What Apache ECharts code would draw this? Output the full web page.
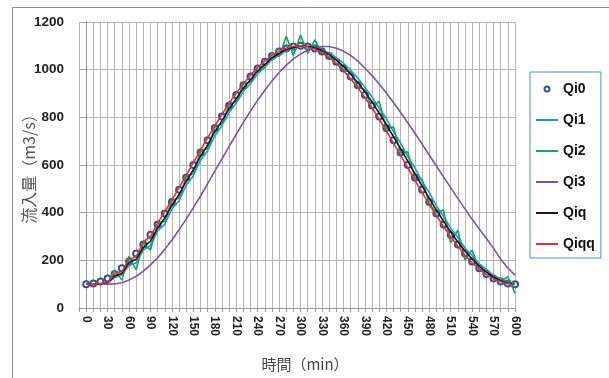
<!DOCTYPE html>
<html>
<head>
<meta charset="utf-8">
<script src="https://cdn.jsdelivr.net/npm/echarts@6/dist/echarts.min.js"></script>
<style>
  html, body { margin: 0; padding: 0; background: #fff; }
  #chart { width: 609px; height: 378px; }
</style>
</head>
<body>
<div id="chart"></div>
<script>
// time (min)
const times = [0, 10, 20, 30, 40, 50, 60, 70, 80, 90, 100, 110, 120, 130, 140, 150, 160, 170, 180, 190,
  200, 210, 220, 230, 240, 250, 260, 270, 280, 290, 300, 310, 320, 330, 340, 350, 360, 370, 380, 390,
  400, 410, 420, 430, 440, 450, 460, 470, 480, 490, 500, 510, 520, 530, 540, 550, 560, 570, 580, 590, 600]

const qi0 = [100, 103, 111, 124, 143, 167, 195, 229, 266, 307, 350, 397, 445, 496, 548, 600, 652, 704, 755, 803,
  850, 894, 935, 971, 1005, 1033, 1057, 1076, 1089, 1097, 1100, 1097, 1089, 1076, 1057, 1033, 1005, 971, 935, 894,
  850, 803, 755, 704, 652, 600, 548, 496, 445, 397, 350, 307, 266, 229, 195, 167, 143, 124, 111, 103, 100]

const qi1 = [100, 100, 101, 104, 128, 140, 178, 190, 243, 262, 322, 352, 415, 450, 515, 555, 620, 660, 722, 765,
  820, 860, 908, 942, 983, 1010, 1042, 1060, 1080, 1090, 1098, 1097, 1094, 1083, 1070, 1050, 1027, 997, 965, 925,
  885, 838, 795, 740, 692, 635, 588, 530, 485, 428, 385, 335, 296, 252, 220, 185, 162, 137, 122, 108, 102]

const qi2 = [100, 100, 103, 104, 160, 117, 218, 160, 274, 243, 352, 365, 450, 462, 550, 565, 655, 670, 758, 772,
  852, 866, 940, 948, 1010, 1012, 1070, 1055, 1140, 1060, 1145, 1068, 1125, 1072, 1052, 1045, 1000, 990, 930, 915,
  835, 868, 752, 760, 650, 655, 545, 540, 440, 400, 411, 272, 327, 201, 243, 160, 162, 122, 112, 131, 62]

const qi3 = [100, 100, 100, 100, 101, 106, 117, 133, 155, 181, 211, 246, 285, 328, 373, 421, 470, 522, 574, 626,
  678, 729, 779, 827, 872, 914, 953, 988, 1019, 1045, 1066, 1082, 1092, 1097, 1097, 1090, 1078, 1060, 1036, 1007,
  975, 940, 902, 862, 820, 777, 733, 688, 642, 596, 550, 505, 460, 416, 372, 332, 292, 250, 205, 168, 138]

const qiq = [100, 100, 102, 106, 135, 145, 192, 205, 254, 280, 336, 378, 431, 476, 532, 580, 637, 684, 740, 785,
  836, 878, 923, 958, 995, 1022, 1050, 1068, 1085, 1093, 1099, 1098, 1092, 1080, 1063, 1040, 1014, 982, 946, 907,
  864, 818, 769, 719, 668, 616, 563, 512, 460, 411, 364, 319, 277, 239, 205, 175, 150, 130, 114, 105, 100]

const qiqq = [100, 100, 103, 105, 146, 153, 204, 216, 277, 300, 356, 404, 453, 505, 557, 610, 662, 714, 764, 812,
  858, 902, 941, 977, 1010, 1037, 1060, 1078, 1091, 1098, 1100, 1095, 1086, 1071, 1051, 1026, 997, 962, 925, 883,
  839, 792, 743, 692, 640, 588, 536, 485, 435, 388, 342, 299, 259, 222, 190, 163, 140, 122, 110, 102, 100]

const numFont = '"Liberation Sans", Arial, sans-serif'
const cjkFont = '"Noto Sans CJK JP", "Noto Sans CJK SC", sans-serif'

const pairs = (arr) => times.map((t, i) => [t, arr[i]])

const lineSeries = (name, arr, color) => ({
  name: name,
  type: 'line',
  data: pairs(arr),
  symbol: 'none',
  color: color,
  lineStyle: { color: color, width: 1.6 },
  z: 3
})

const chart = echarts.init(document.getElementById('chart'), null, { renderer: 'canvas' })

const option = {
  backgroundColor: '#fff',
  animation: false,
  grid: {
    left: 79,
    right: 94,
    top: 22,
    bottom: 70
  },
  graphic: [
    {
      // outer frame of the chart area
      type: 'rect',
      shape: { x: 12.5, y: 7.5, width: 700, height: 500 },
      style: { fill: 'none', stroke: '#8c8c8c', lineWidth: 1 },
      silent: true
    }
  ],
  legend: {
    orient: 'vertical',
    left: 530,
    top: 72,
    padding: [10, 6, 7, 6],
    borderColor: '#4f8fd0',
    borderWidth: 1,
    itemWidth: 22,
    itemHeight: 5,
    itemGap: 17,
    textStyle: { fontFamily: numFont, fontWeight: 'bold', fontSize: 14, color: '#111' },
    data: [
      { name: 'Qi0', icon: 'emptyCircle', itemStyle: { borderWidth: 1 } },
      { name: 'Qi1', icon: 'path://M0,0H22V2H0Z' },
      { name: 'Qi2', icon: 'path://M0,0H22V2H0Z' },
      { name: 'Qi3', icon: 'path://M0,0H22V2H0Z' },
      { name: 'Qiq', icon: 'path://M0,0H22V2H0Z' },
      { name: 'Qiqq', icon: 'path://M0,0H22V2H0Z' }
    ]
  },
  xAxis: {
    type: 'value',
    min: -10,
    max: 600,
    interval: 10,
    name: '時間（min）',
    nameLocation: 'middle',
    nameGap: 49,
    nameMoveOverlap: false,
    nameTextStyle: { fontFamily: cjkFont, fontSize: 15, color: '#444', padding: [0, 0, 0, 16] },
    axisLine: { show: true, lineStyle: { color: '#9a9a9a', width: 1 } },
    axisTick: { show: true, inside: false, length: 4, lineStyle: { color: '#9a9a9a' } },
    axisLabel: {
      rotate: -90,
      margin: 8,
      fontFamily: numFont,
      fontWeight: 'bold',
      fontSize: 12,
      color: '#222',
      formatter: (v) => (v >= 0 && v % 30 === 0 ? String(v) : '')
    },
    splitLine: { show: true, lineStyle: { color: '#b4b4b4', width: 1 } }
  },
  yAxis: {
    type: 'value',
    min: 0,
    max: 1200,
    interval: 200,
    name: '流入量（m3/s）',
    nameLocation: 'middle',
    nameRotate: 90,
    nameGap: 42,
    nameMoveOverlap: false,
    nameTextStyle: { fontFamily: cjkFont, fontSize: 16, color: '#555' },
    axisLine: { show: true, lineStyle: { color: '#9a9a9a', width: 1 } },
    axisTick: { show: true, inside: false, length: 5, lineStyle: { color: '#9a9a9a' } },
    axisLabel: {
      margin: 15,
      fontFamily: numFont,
      fontWeight: 'bold',
      fontSize: 13.5,
      color: '#222',
      formatter: (v) => String(v)
    },
    splitLine: { show: true, lineStyle: { color: '#b4b4b4', width: 1 } }
  },
  series: [
    {
      name: 'Qi0',
      type: 'line',
      data: pairs(qi0),
      symbol: 'emptyCircle',
      symbolSize: 6,
      showSymbol: true,
      color: '#2f5597',
      itemStyle: { color: '#2f5597', borderColor: '#2f5597', borderWidth: 1.1 },
      lineStyle: { width: 0, opacity: 0 },
      z: 2
    },
    lineSeries('Qi1', qi1, '#1b98d8'),
    lineSeries('Qi2', qi2, '#14a65a'),
    lineSeries('Qi3', qi3, '#7f4fb5'),
    lineSeries('Qiq', qiq, '#1a1a1a'),
    lineSeries('Qiqq', qiqq, '#ee2a2f')
  ]
}

chart.setOption(option)
</script>
</body>
</html>
